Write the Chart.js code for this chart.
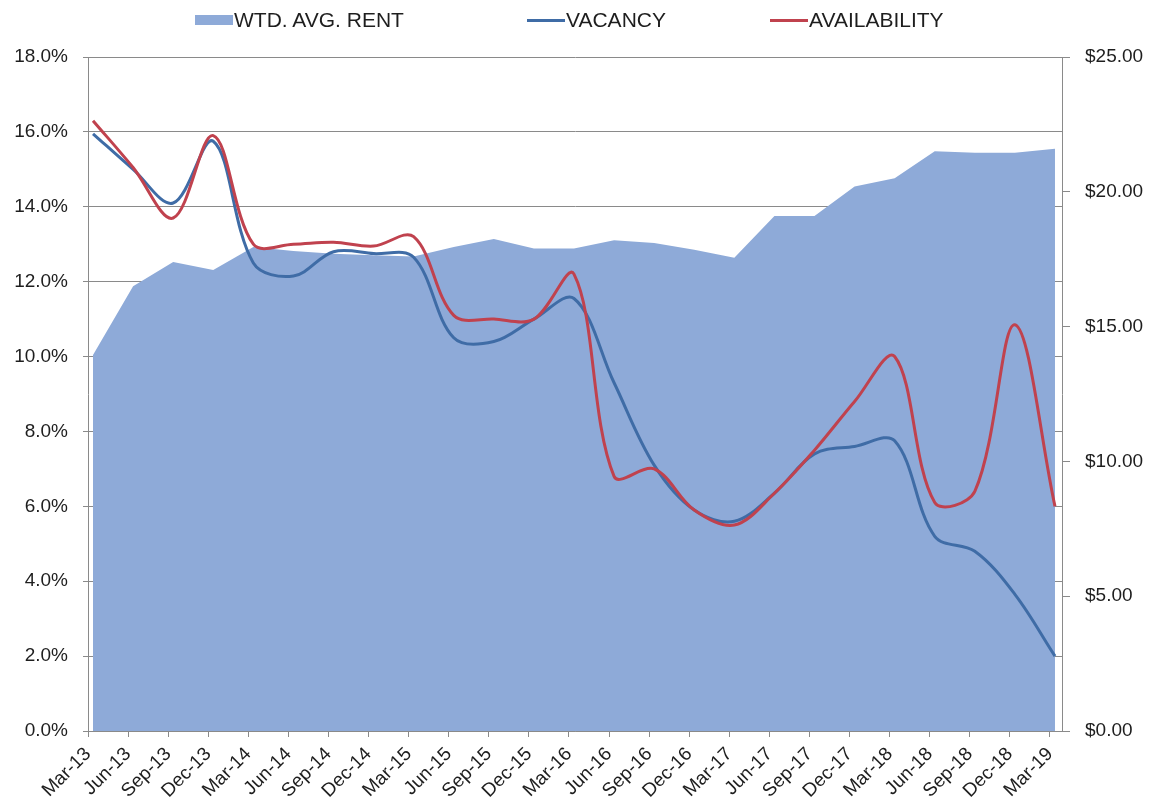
<!DOCTYPE html>
<html>
<head>
<meta charset="utf-8">
<script src="https://cdn.jsdelivr.net/npm/chart.js@4.4.1/dist/chart.umd.min.js"></script>
<style>
  html, body { margin: 0; padding: 0; background: #ffffff; }
  #wrap { position: relative; width: 1156px; height: 811px; }
  canvas { position: absolute; left: 0; top: 0; }
  .lg { position: absolute; top: 7px; height: 26px; display: flex; align-items: center;
        font: 21px "Liberation Sans", Arial, sans-serif; color: #1e1e1e; white-space: nowrap; }
  .sw-area { width: 38px; height: 10px; background: #8eaad8; margin-right: 1px; }
  .sw-line { width: 38px; height: 3px; margin-right: 1px; }
</style>
</head>
<body>
<div id="wrap">
  <canvas id="chart" width="1156" height="811"></canvas>
  <div class="lg" style="left:195px"><span class="sw-area"></span>WTD. AVG. RENT</div>
  <div class="lg" style="left:527px"><span class="sw-line" style="background:#3f6ca6"></span>VACANCY</div>
  <div class="lg" style="left:770px"><span class="sw-line" style="background:#c0424e"></span>AVAILABILITY</div>
</div>
<script>
// Quarter labels (x axis)
const quarters = ['Mar-13','Jun-13','Sep-13','Dec-13','Mar-14','Jun-14','Sep-14','Dec-14',
                  'Mar-15','Jun-15','Sep-15','Dec-15','Mar-16','Jun-16','Sep-16','Dec-16',
                  'Mar-17','Jun-17','Sep-17','Dec-17','Mar-18','Jun-18','Sep-18','Dec-18','Mar-19'];

// Weighted average asking rent, $ (right axis)
const rent = [13.95, 16.5, 17.4, 17.1, 17.95, 17.8, 17.7, 17.65, 17.6, 17.95, 18.25, 17.9, 17.9,
              18.2, 18.1, 17.85, 17.55, 19.1, 19.1, 20.2, 20.5, 21.5, 21.45, 21.45, 21.6];

// Vacancy rate, % (left axis)
const vacancy = [15.95, 15.0, 14.1, 15.75, 12.5, 12.15, 12.8, 12.75, 12.65, 10.5, 10.4, 11.0, 11.55,
                 9.3, 7.1, 5.9, 5.6, 6.35, 7.4, 7.6, 7.75, 5.2, 4.8, 3.65, 2.0];

// Availability rate, % (left axis)
const availability = [16.3, 15.05, 13.7, 15.9, 13.0, 13.0, 13.05, 12.95, 13.2, 11.1, 11.0, 11.0, 12.2,
                      6.8, 7.0, 5.9, 5.5, 6.35, 7.5, 8.8, 10.0, 6.1, 6.4, 10.85, 6.0];

// Axis tick values
const pctTicks = [0, 2, 4, 6, 8, 10, 12, 14, 16, 18];
const rentTicks = [0, 5, 10, 15, 20, 25];

const tickShift = 0.125;
const toXY = arr => arr.map((v, i) => ({ x: i, y: v }));
const tickFont = { family: '"Liberation Sans", Arial, sans-serif', size: 19 };
const axisGray = '#8a8a8a';

new Chart(document.getElementById('chart'), {
  type: 'line',
  data: {
    datasets: [
      {
        label: 'AVAILABILITY',
        data: toXY(availability),
        yAxisID: 'y',
        borderColor: '#c0424e',
        borderWidth: 3,
        pointRadius: 0,
        tension: 0.35,
        fill: false,
        order: 0
      },
      {
        label: 'VACANCY',
        data: toXY(vacancy),
        yAxisID: 'y',
        borderColor: '#3f6ca6',
        borderWidth: 3,
        pointRadius: 0,
        tension: 0.35,
        fill: false,
        order: 1
      },
      {
        label: 'WTD. AVG. RENT',
        data: toXY(rent),
        yAxisID: 'y1',
        borderWidth: 0,
        borderColor: 'rgba(0,0,0,0)',
        backgroundColor: '#8eaad8',
        pointRadius: 0,
        tension: 0,
        fill: 'origin',
        order: 2
      }
    ]
  },
  options: {
    responsive: false,
    animation: false,
    devicePixelRatio: 1,
    layout: { padding: { top: 57, left: 0, right: 0, bottom: 0 } },
    plugins: { legend: { display: false }, tooltip: { enabled: false } },
    scales: {
      x: {
        type: 'linear',
        min: -tickShift,
        max: 24 + 0.175,
        afterBuildTicks: s => { s.ticks = quarters.map((q, i) => ({ value: i - tickShift })); },
        afterFit: s => { s.height = 80; },
        grid: { drawOnChartArea: false, drawTicks: true, tickLength: 6, color: axisGray },
        border: { display: true, color: axisGray, width: 1 },
        ticks: {
          autoSkip: false,
          minRotation: 45,
          maxRotation: 45,
          padding: 6,
          color: '#1e1e1e',
          font: tickFont,
          callback: (v, i) => quarters[i]
        }
      },
      y: {
        position: 'left',
        min: 0,
        max: 18,
        afterBuildTicks: s => { s.ticks = pctTicks.map(v => ({ value: v })); },
        afterFit: s => { s.width = 88; },
        grid: { color: axisGray, lineWidth: 1, drawTicks: true, tickLength: 5 },
        border: { display: true, color: axisGray, width: 1 },
        ticks: {
          padding: 15,
          color: '#1e1e1e',
          font: tickFont,
          callback: v => v.toFixed(1) + '%'
        }
      },
      y1: {
        position: 'right',
        min: 0,
        max: 25,
        afterBuildTicks: s => { s.ticks = rentTicks.map(v => ({ value: v })); },
        afterFit: s => { s.width = 94; },
        grid: { drawOnChartArea: false, drawTicks: true, tickLength: 8, color: axisGray },
        border: { display: true, color: axisGray, width: 1 },
        ticks: {
          padding: 15,
          color: '#1e1e1e',
          font: tickFont,
          callback: v => '$' + v.toFixed(2)
        }
      }
    }
  }
});
</script>
</body>
</html>
